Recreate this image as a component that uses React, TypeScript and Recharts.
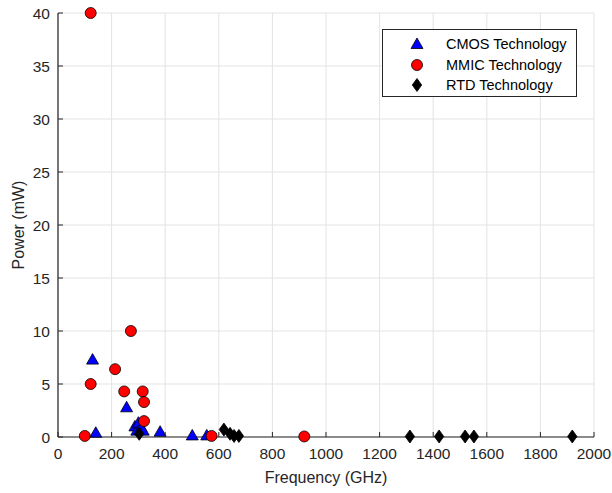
import React from "react";
import {
  ScatterChart,
  Scatter,
  XAxis,
  YAxis,
  CartesianGrid,
  Legend,
} from "recharts";

const cmosFreq = [129, 141, 256, 287, 294, 300, 310, 318, 381, 501, 555];
const cmosPower = [7.3, 0.4, 2.8, 1.0, 0.6, 1.35, 0.9, 0.6, 0.5, 0.15, 0.15];

const mmicFreq = [100, 122, 122, 213, 247, 272, 316, 321, 321, 573, 919];
const mmicPower = [0.1, 40, 5.0, 6.4, 4.3, 10, 4.3, 3.3, 1.5, 0.1, 0.05];

const rtdFreq = [303, 619, 642, 657, 675, 1313, 1422, 1519, 1552, 1919];
const rtdPower = [0.3, 0.7, 0.3, 0.1, 0.1, 0.05, 0.05, 0.05, 0.05, 0.05];

const xTicks = [0, 200, 400, 600, 800, 1000, 1200, 1400, 1600, 1800, 2000];
const yTicks = [0, 5, 10, 15, 20, 25, 30, 35, 40];

const toPoints = (xs: number[], ys: number[]) =>
  xs.map((x, i) => ({ freq: x, power: ys[i] }));

const cmosData = toPoints(cmosFreq, cmosPower);
const mmicData = toPoints(mmicFreq, mmicPower);
const rtdData = toPoints(rtdFreq, rtdPower);

const FONT = '"Liberation Sans", Arial, Helvetica, sans-serif';
const AXIS = "#262626";

const Triangle = ({ cx, cy }: any) => (
  <polygon
    points={`${cx},${cy - 6} ${cx - 6},${cy + 4.5} ${cx + 6},${cy + 4.5}`}
    fill="#0000ff"
    stroke="#000"
    strokeWidth={0.8}
  />
);

const Dot = ({ cx, cy }: any) => (
  <circle cx={cx} cy={cy} r={5.5} fill="#ff0000" stroke="#000" strokeWidth={0.8} />
);

const Diamond = ({ cx, cy }: any) => (
  <polygon
    points={`${cx},${cy - 6.5} ${cx + 4.7},${cy} ${cx},${cy + 6.5} ${cx - 4.7},${cy}`}
    fill="#000"
    stroke="#000"
    strokeWidth={0.8}
  />
);

// ticks drawn pointing into the plot, matlab style
const XTick = ({ x, y, payload }: any) => (
  <g>
    <line x1={x} y1={y} x2={x} y2={y - 5} stroke={AXIS} strokeWidth={1} />
    <text x={x} y={y + 22} textAnchor="middle" fill={AXIS} fontSize={15.5} fontFamily={FONT}>
      {payload.value}
    </text>
  </g>
);

const YTick = ({ x, y, payload }: any) => (
  <g>
    <line x1={x} y1={y} x2={x + 5} y2={y} stroke={AXIS} strokeWidth={1} />
    <text x={x - 8} y={y + 5.5} textAnchor="end" fill={AXIS} fontSize={15.5} fontFamily={FONT}>
      {payload.value}
    </text>
  </g>
);

const legendItems = [
  { name: "CMOS Technology", Shape: Triangle },
  { name: "MMIC Technology", Shape: Dot },
  { name: "RTD Technology", Shape: Diamond },
];

const LegendBox = () => (
  <div
    style={{
      width: 193,
      height: 66,
      border: `1px solid ${AXIS}`,
      background: "#fff",
      position: "relative",
      fontFamily: FONT,
      fontSize: 14.5,
      color: "#000",
    }}
  >
    {legendItems.map((item, i) => (
      <div
        key={item.name}
        style={{ position: "absolute", left: 0, top: 4 + i * 20.5, height: 20, width: "100%" }}
      >
        <svg width={20} height={20} style={{ position: "absolute", left: 24, top: 0 }}>
          <item.Shape cx={10} cy={10} />
        </svg>
        <span style={{ position: "absolute", left: 63, top: 2, whiteSpace: "nowrap" }}>
          {item.name}
        </span>
      </div>
    ))}
  </div>
);

export default function App() {
  return (
    <div style={{ position: "fixed", left: 0, top: 0, background: "#fff" }}>
      <ScatterChart
        width={612}
        height={493}
        margin={{ top: 13, right: 18, left: 0, bottom: 0 }}
      >
        <CartesianGrid stroke="#e3e3e3" strokeWidth={1} />
        <XAxis
          type="number"
          dataKey="freq"
          domain={[0, 2000]}
          ticks={xTicks}
          height={56}
          tickSize={0}
          tickMargin={0}
          tickLine={false}
          tick={<XTick />}
          axisLine={{ stroke: AXIS, strokeWidth: 1.2 }}
          label={{
            value: "Frequency (GHz)",
            position: "insideBottom",
            offset: 10,
            fill: AXIS,
            fontSize: 16,
            fontFamily: FONT,
          }}
        />
        <YAxis
          type="number"
          dataKey="power"
          domain={[0, 40]}
          ticks={yTicks}
          width={58}
          tickSize={0}
          tickMargin={0}
          tickLine={false}
          tick={<YTick />}
          axisLine={{ stroke: AXIS, strokeWidth: 1.2 }}
          label={{
            value: "Power (mW)",
            angle: -90,
            position: "insideLeft",
            offset: 18,
            fill: AXIS,
            fontSize: 16,
            fontFamily: FONT,
            style: { textAnchor: "middle" },
          }}
        />
        <Legend
          layout="vertical"
          align="center"
          verticalAlign="middle"
          content={<LegendBox />}
          wrapperStyle={{ left: 382, top: 29, width: 195, height: 68 }}
        />
        <Scatter name="CMOS Technology" data={cmosData} shape={<Triangle />} isAnimationActive={false} />
        <Scatter name="MMIC Technology" data={mmicData} shape={<Dot />} isAnimationActive={false} />
        <Scatter name="RTD Technology" data={rtdData} shape={<Diamond />} isAnimationActive={false} />
      </ScatterChart>
    </div>
  );
}
